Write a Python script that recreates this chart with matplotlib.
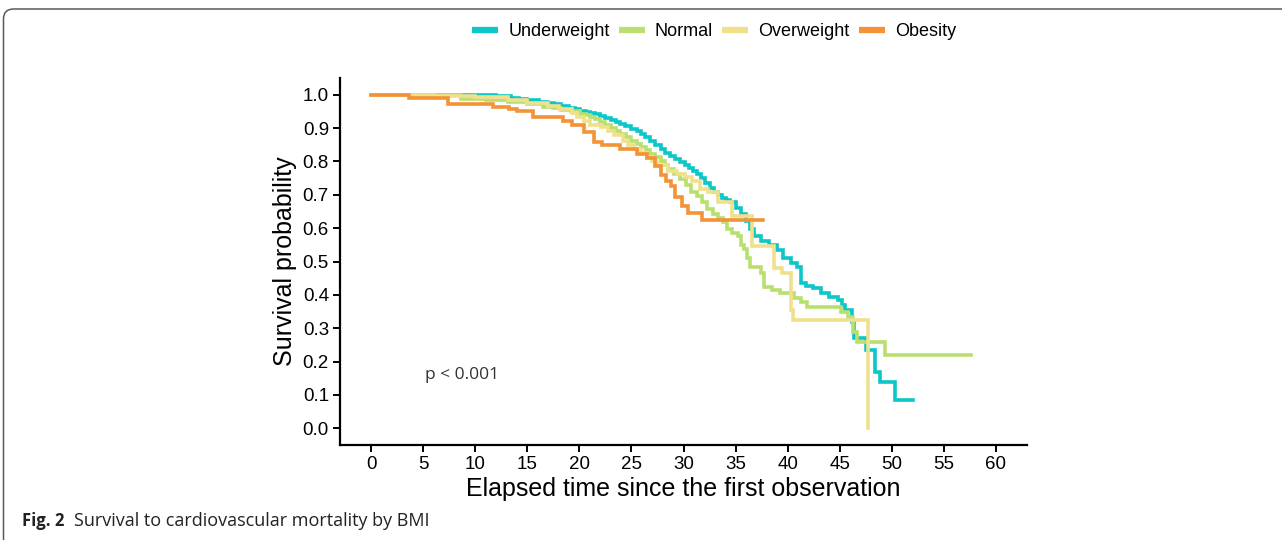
import numpy as np
import matplotlib.pyplot as plt
from matplotlib.lines import Line2D
from matplotlib.patches import FancyBboxPatch

# Kaplan-Meier step values (time, survival)
under_t = [0, 8, 12, 13.4, 14.2, 15, 16.1, 17, 17.6, 18.2, 19, 19.6, 20.1, 20.6, 21, 21.5,
           22.0, 22.5, 23, 23.5, 23.9, 24.4, 25, 25.5, 25.9, 26.3, 26.8, 27.3, 27.8, 28.2,
           28.7, 29.2, 29.7, 30.1, 30.5, 30.9, 31.3, 31.7, 32.1, 32.5, 32.9, 33.3, 33.7,
           34.1, 34.5, 35.0, 35.5, 36.0, 36.4, 36.8, 37.4, 38.2, 39.0, 39.6, 40.3, 40.9,
           41.3, 41.8, 42.4, 43.2, 44.0, 44.8, 45.2, 45.5, 46.2, 46.4, 47.5, 48.4, 48.9,
           50.3, 52.0]
under_s = [1.0, 0.998, 0.995, 0.99, 0.988, 0.985, 0.979, 0.975, 0.971, 0.967, 0.96, 0.956,
           0.952, 0.949, 0.945, 0.941, 0.937, 0.931, 0.925, 0.919, 0.913, 0.906, 0.898,
           0.89, 0.883, 0.873, 0.862, 0.85, 0.837, 0.826, 0.815, 0.806, 0.798, 0.789, 0.78,
           0.771, 0.762, 0.749, 0.735, 0.721, 0.708, 0.699, 0.69, 0.684, 0.678, 0.66, 0.641,
           0.62, 0.596, 0.575, 0.56, 0.55, 0.535, 0.51, 0.497, 0.485, 0.437, 0.428, 0.42,
           0.407, 0.395, 0.386, 0.37, 0.355, 0.32, 0.27, 0.235, 0.17, 0.139, 0.084, 0.084]

normal_t = [0, 5, 8.6, 11, 13.1, 15, 16.5, 17.5, 18.2, 19.2, 20.1, 20.6, 21.0, 21.5, 22.0,
            22.5, 23.0, 23.5, 23.9, 24.5, 25.0, 25.5, 25.9, 26.4, 26.8, 27.3, 27.8, 28.2,
            28.5, 29.1, 29.7, 30.2, 30.7, 31.3, 31.8, 32.3, 32.8, 33.3, 33.8, 34.2, 34.7,
            35.2, 35.5, 35.8, 36.1, 36.4, 37.4, 37.7, 38.5, 39.3, 40.6, 41.3, 41.9, 45.1,
            45.8, 46.3, 46.7, 49.4, 57.6]
normal_s = [1.0, 0.998, 0.988, 0.984, 0.979, 0.972, 0.964, 0.96, 0.955, 0.95, 0.943, 0.938,
            0.932, 0.926, 0.919, 0.91, 0.9, 0.891, 0.883, 0.872, 0.862, 0.852, 0.843, 0.833,
            0.823, 0.812, 0.801, 0.789, 0.777, 0.762, 0.747, 0.728, 0.708, 0.696, 0.677,
            0.657, 0.643, 0.63, 0.617, 0.596, 0.585, 0.575, 0.55, 0.536, 0.51, 0.485, 0.467,
            0.425, 0.416, 0.407, 0.392, 0.378, 0.364, 0.35, 0.334, 0.29, 0.259, 0.22, 0.22]

over_t = [0, 6, 10, 13.1, 15, 17, 18.0, 19.3, 19.8, 20.4, 21.0, 22.1, 22.7, 23.3, 24.2,
          24.7, 25.2, 25.9, 26.5, 27.0, 27.5, 28.5, 29.4, 30.1, 30.8, 31.6, 32.4, 33.3,
          34.7, 36.6, 38.7, 39.5, 40.3, 40.5, 47.7, 47.7]
over_s = [1.0, 0.997, 0.992, 0.985, 0.976, 0.967, 0.957, 0.945, 0.933, 0.922, 0.91, 0.904,
          0.892, 0.88, 0.86, 0.848, 0.837, 0.825, 0.813, 0.801, 0.79, 0.772, 0.762, 0.752,
          0.741, 0.717, 0.708, 0.678, 0.636, 0.545, 0.482, 0.467, 0.355, 0.325, 0.0, 0.0]

obes_t = [0, 3.6, 7.4, 11.7, 13.2, 14.0, 15.5, 18.4, 19.3, 20.4, 21.4, 22.2, 23.9, 25.5,
          26.5, 27.3, 27.8, 28.3, 28.8, 29.2, 29.9, 30.4, 31.8, 37.6]
obes_s = [1.0, 0.991, 0.971, 0.964, 0.958, 0.951, 0.933, 0.922, 0.91, 0.888, 0.858, 0.85,
          0.837, 0.822, 0.81, 0.786, 0.759, 0.742, 0.726, 0.693, 0.666, 0.645, 0.625, 0.625]

groups = ["Underweight", "Normal", "Overweight", "Obesity"]
curves = [(under_t, under_s), (normal_t, normal_s), (over_t, over_s), (obes_t, obes_s)]
colors = ["#0CC6C8", "#B9DF6E", "#F1E08B", "#F39236"]

plt.rcParams['font.family'] = ['Liberation Sans', 'DejaVu Sans']

fig = plt.figure(figsize=(12.82, 5.40), dpi=100)
ax = fig.add_axes([340 / 1282, 1 - 445 / 540, (1027 - 340) / 1282, (445 - 78) / 540])

for i, (name, (t, s)) in enumerate(zip(groups, curves)):
    ax.step(t, s, where='post', color=colors[i], lw=2.6, zorder=2 + i,
            solid_joinstyle='miter')

ax.set_xlim(-3, 63)
ax.set_ylim(-0.05, 1.05)
ax.set_xticks(np.arange(0, 61, 5))
ax.set_yticks(np.round(np.arange(0, 1.01, 0.1), 1))
ax.set_yticklabels([f"{v:.1f}" for v in np.arange(0, 1.01, 0.1)])

for side in ['top', 'right']:
    ax.spines[side].set_visible(False)
for side in ['left', 'bottom']:
    ax.spines[side].set_linewidth(1.6)
ax.tick_params(axis='both', direction='out', length=5, width=1.4,
               labelsize=13.5, colors='black', pad=3)

ax.set_xlabel("Elapsed time since the first observation", fontsize=18, labelpad=3)
ax.set_ylabel("Survival probability", fontsize=18, labelpad=4)

ax.text(5.2, 0.16, "p < 0.001", fontsize=12.5, family=['Open Sans', 'DejaVu Sans'],
        color='#333333', ha='left', va='center')

# legend across the top
handles = [Line2D([0], [0], color=c, lw=4.5, solid_capstyle='butt') for c in colors]
fig.legend(handles, groups, loc='center', bbox_to_anchor=(714 / 1282, 1 - 32 / 540),
           ncol=4, frameon=False, fontsize=13, handlelength=1.45,
           handletextpad=0.55, columnspacing=0.5, borderpad=0)

# caption
fig.text(22 / 1282, 1 - 521 / 540, "Fig. 2", fontsize=12, fontweight='bold',
         family=['Open Sans', 'DejaVu Sans'], ha='left', va='center', color='#222222')
fig.text(74 / 1282, 1 - 521 / 540, "Survival to cardiovascular mortality by BMI",
         fontsize=13, family=['Open Sans', 'DejaVu Sans'], ha='left', va='center',
         color='#222222')

# rounded frame around the figure panel
frame = FancyBboxPatch((0.035, -1.0), 14.0, 5.31 + 1.0,
                       boxstyle="round,pad=0,rounding_size=0.1",
                       transform=fig.dpi_scale_trans, fill=False,
                       edgecolor='#5a5a5a', lw=1.1, clip_on=False)
fig.add_artist(frame)

fig.savefig("out.png", dpi=100)
